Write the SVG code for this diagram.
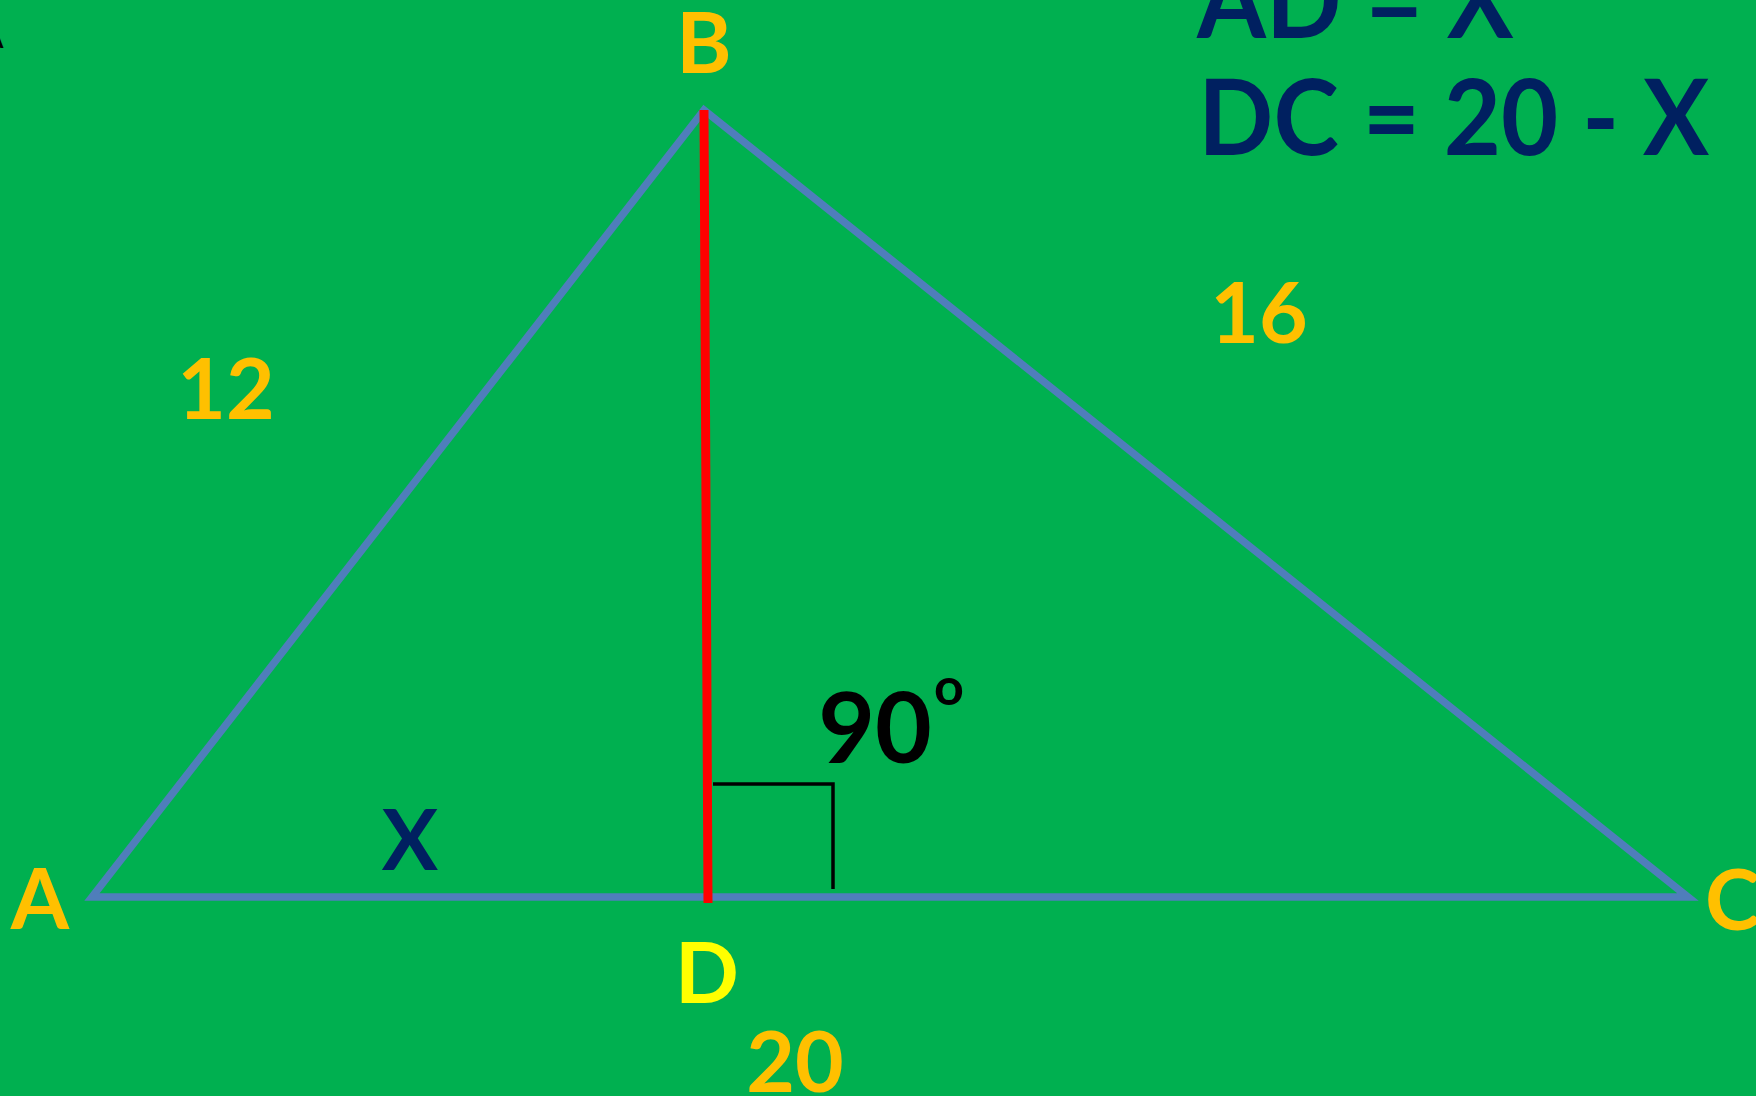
<svg xmlns="http://www.w3.org/2000/svg" width="1756" height="1096" viewBox="0 0 1756 1096">
<style>
.t{font-family:Lato,"Liberation Sans",sans-serif;font-weight:700}
.lbl{font-size:84px}
.or{fill:#FFC000}
.nv{fill:#002060}
.side{stroke:#4F7EBB;stroke-width:7.5;fill:none;stroke-linejoin:miter}
</style>
<rect width="1756" height="1096" fill="#00B050"/>
<g id="connectors">
<path id="triangle" class="side" d="M92 897 L704 110 L1688 897 Z"/>
<line id="altitude-BD" x1="704" y1="110" x2="708" y2="903" stroke="#FF0000" stroke-width="9"/>
<polyline id="right-angle" points="713,784 833,784 833,889" fill="none" stroke="#000" stroke-width="3.5"/>
</g>
<g id="node-A"><text class="t lbl or" x="40" y="929" text-anchor="middle">A</text></g>
<g id="node-B"><text class="t lbl or" x="704" y="73" text-anchor="middle">B</text></g>
<g id="node-C"><text class="t lbl or" x="1705" y="930">C</text></g>
<g id="node-D"><text class="t lbl" x="707" y="1003" text-anchor="middle" fill="#FFFF00">D</text></g>
<g id="label-AB"><text class="t lbl or" x="226" y="419" text-anchor="middle">12</text></g>
<g id="label-BC"><text class="t lbl or" x="1259" y="343" text-anchor="middle">16</text></g>
<g id="label-AC"><text class="t lbl or" x="795" y="1092" text-anchor="middle">20</text></g>
<g id="label-AD"><text class="t lbl nv" x="410" y="870" text-anchor="middle">X</text></g>
<g id="label-angle"><text class="t" x="875" y="763" text-anchor="middle" font-size="98" fill="#000">90</text><text class="t" x="949" y="705" text-anchor="middle" font-size="52" fill="#000">o</text></g>
<g id="equations">
<text class="t nv" x="1197" y="38" font-size="105" transform="translate(1197,0) scale(0.945,1) translate(-1197,0)">AD = X</text>
<text class="t nv" x="1198" y="155" font-size="105" transform="translate(1204,0) scale(0.94,1) translate(-1204,0)">DC = 20 - X</text>
</g>
<g id="corner-mark"><text class="t" x="3.5" y="48" text-anchor="end" font-size="24" fill="#000">A</text></g>
</svg>
